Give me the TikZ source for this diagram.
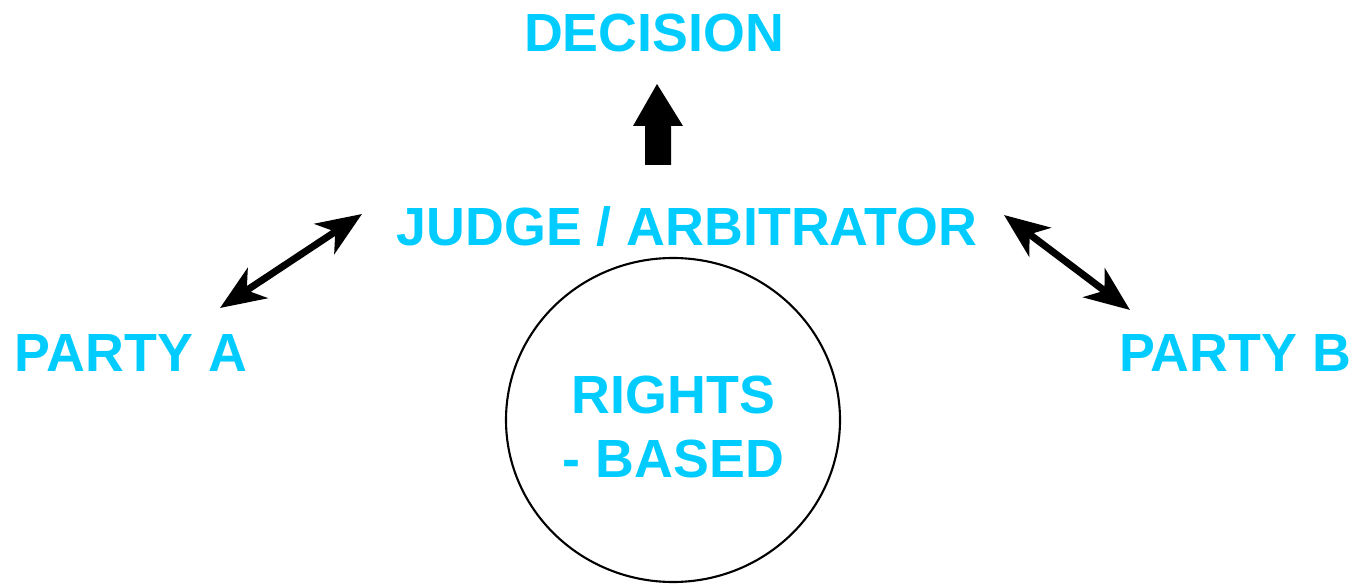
\documentclass[tikz,border=0pt]{standalone}
\usepackage{fontspec}
\setmainfont{Liberation Sans}
\usetikzlibrary{arrows.meta,positioning,shapes.geometric}
\definecolor{skyblue}{HTML}{00CCFF}
\begin{document}
\begin{tikzpicture}[x=1cm,y=1cm,
label/.style={text=skyblue,font=\fontsize{15.3}{18.2}\selectfont\bfseries,inner sep=0pt,anchor=base,align=center},
link/.style={line width=2pt,{Stealth[length=0.45cm,width=0.36cm,inset=0.13cm]}-{Stealth[length=0.45cm,width=0.36cm,inset=0.13cm]}}]
\useasboundingbox (0,0) rectangle (13.57,5.83);
\node[label] (Decision) at (6.54,5.31) {DECISION};
\node[label] (Judge) at (6.87,3.37) {JUDGE / ARBITRATOR};
\node[label] (PartyA) at (1.31,2.11) {PARTY A};
\node[label] (PartyB) at (12.35,2.11) {PARTY B};
\node[draw,ellipse,line width=0.6pt,minimum width=3.34cm,minimum height=3.24cm,inner sep=0pt] (Circ) at (6.73,1.63) {};
\node[label,anchor=center] (Rights) at (6.735,1.56) {RIGHTS\\- BASED};
% connectors
\coordinate (aL) at (2.20,2.75);
\coordinate (jL) at (3.62,3.69);
\coordinate (jR) at (10.04,3.68);
\coordinate (bR) at (11.30,2.73);
\draw[link] (aL) -- (jL);
\draw[link] (jR) -- (bR);
% block arrow
\fill (6.45,4.18) -- (6.45,4.57) -- (6.33,4.57) -- (6.57,4.99) -- (6.83,4.57) -- (6.71,4.57) -- (6.71,4.18) -- cycle;
\end{tikzpicture}
\end{document}
